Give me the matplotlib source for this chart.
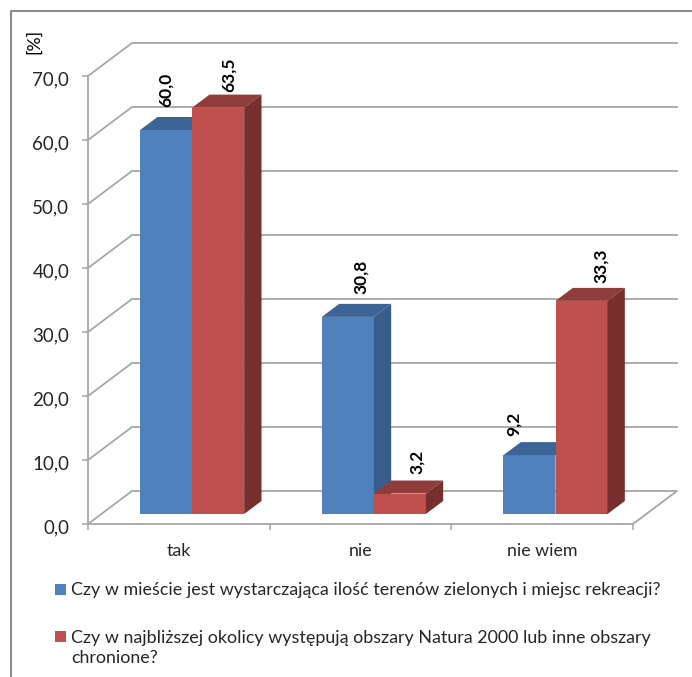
import numpy as np
from matplotlib import pyplot as plt
from matplotlib.lines import Line2D
from matplotlib.patches import Polygon, Rectangle
from matplotlib.transforms import ScaledTranslation

plt.rcParams['font.family'] = ['Lato', 'DejaVu Sans']

# DATA
categories = ["tak", "nie", "nie wiem"]
miasto = [60.0, 30.8, 9.2]
natura = [63.5, 3.2, 33.3]
y_ticks = [0, 10, 20, 30, 40, 50, 60, 70]
legend_a = "Czy w mieście jest wystarczająca ilość terenów zielonych i miejsc rekreacji?"
legend_b = "Czy w najbliższej okolicy występują obszary Natura 2000 lub inne obszary\nchronione?"

# FIGURE SIZING (pixels of the picture)
W, H = 692, 677
left, right, top, bottom = 88, 633, 76, 524
fig = plt.figure(figsize=(W / 100, H / 100), dpi=100)
ax = fig.add_axes([left / W, 1 - bottom / H, (right - left) / W, (bottom - top) / H])
ax.set_xlim(0, 3)
ax.set_ylim(0, 70)
ax.patch.set_visible(False)

ux = (right - left) / 3.   # pixels per category
uy = (bottom - top) / 70.  # pixels per percent
grid_c = "#a6a6a6"
txt_c = "#262626"


def proj(x, y, d):
    # depth d in pixels of vertical shift, walls go 44 right for 33 up
    return x + d * 44. / 33. / ux, y + d / uy


# WALLS
for v in y_ticks:
    x0, y0 = proj(0, v, 33)
    x1, y1 = proj(3, v, 33)
    if v == 0:
        ax.plot([0, x0, x1, 3], [0, y0, y1, 0], color=grid_c, lw=1.3, clip_on=False, zorder=1)
    else:
        ax.plot([0, x0, x1], [v, y0, y1], color=grid_c, lw=1.3, clip_on=False, zorder=1)

# BARS
bar_w = 52. / ux
d_front, d_back = 10, 23
x_off, y_off = proj(0, 0, d_front)
styles = [("#4f81bd", "#3c6494", "#385d8a"), ("#c0504d", "#8f3c3a", "#772f2d")]
for i in range(3):
    for j, vals in enumerate([miasto, natura]):
        v = vals[i]
        front, roof, side = styles[j]
        xa = i + 0.5 + (j - 1) * bar_w + x_off
        xb = xa + bar_w
        ax.bar(xa, v, bar_w, bottom=y_off, align="edge", color=front, lw=0, clip_on=False, zorder=3)
        ytop = y_off + v
        dx, dy = proj(0, 0, d_back - d_front)
        ax.add_patch(Polygon([(xa, ytop), (xb, ytop), (xb + dx, ytop + dy), (xa + dx, ytop + dy)],
                             fc=roof, lw=0, clip_on=False, zorder=3))
        ax.add_patch(Polygon([(xb, y_off), (xb + dx, y_off + dy), (xb + dx, ytop + dy), (xb, ytop)],
                             fc=side, lw=0, clip_on=False, zorder=3))

# DATA LABELS
shift_x = [[0, 11], [13, 17], [-16, 19]]
shift_y = [[23, 16], [23, 20], [19, 18]]
for i in range(3):
    for j, vals in enumerate([miasto, natura]):
        xc = i + 0.5 + (j - 0.5) * bar_w + x_off
        ax.annotate(f"{vals[i]:.1f}".replace(".", ","), (xc, y_off + vals[i]),
                    xytext=(shift_x[i][j] * 0.72, shift_y[i][j] * 0.72), textcoords="offset points",
                    rotation=90, ha="center", va="bottom", fontsize=12.5, fontweight="bold",
                    color="black", annotation_clip=False, zorder=5)

# AXES
for s in ["top", "right"]:
    ax.spines[s].set_visible(False)
for s in ["left", "bottom"]:
    ax.spines[s].set_color(grid_c)
    ax.spines[s].set_linewidth(1.3)
ax.set_yticks(y_ticks)
ax.set_yticklabels([f"{v:.1f}".replace(".", ",") for v in y_ticks], fontsize=13.5, color=txt_c)
ax.tick_params(axis="y", length=4, width=1.1, color=grid_c, pad=9.5)
# the labels sit a little lower than the ticks
for lab in ax.get_yticklabels():
    lab.set_transform(lab.get_transform() + ScaledTranslation(0, -2 / 100., fig.dpi_scale_trans))
ax.set_xticks([0, 1, 2, 3])
ax.set_xticklabels([])
ax.tick_params(axis="x", which="major", length=4, width=1.1, color=grid_c)
ax.set_xticks([0.5, 1.5, 2.5], minor=True)
ax.set_xticklabels(categories, minor=True, fontsize=12.8, color=txt_c)
ax.tick_params(axis="x", which="minor", length=0, pad=14)

fig.text(34 / W, 1 - 41 / H, "[%]", rotation=90, ha="center", va="center", fontsize=12.8, color="black")

# LEGEND
for y0, c in [(584, styles[0][0]), (631, styles[1][0])]:
    fig.add_artist(Rectangle((55 / W, 1 - (y0 + 11) / H), 11 / W, 11 / H, fc=c, lw=0,
                             transform=fig.transFigure))
fig.text(71 / W, 1 - 590 / H, legend_a, ha="left", va="center", fontsize=12.85, color=txt_c)
fig.text(71 / W, 1 - 648 / H, legend_b, ha="left", va="center", fontsize=12.85, color=txt_c, linespacing=1.28)

# FRAME
fig.add_artist(Line2D([11 / W, 11 / W, 1], [0, 1 - 11 / H, 1 - 11 / H], color="#8c8c8c", lw=1.5,
                      transform=fig.transFigure))

fig.savefig("out.png", dpi=100)
plt.close("all")
